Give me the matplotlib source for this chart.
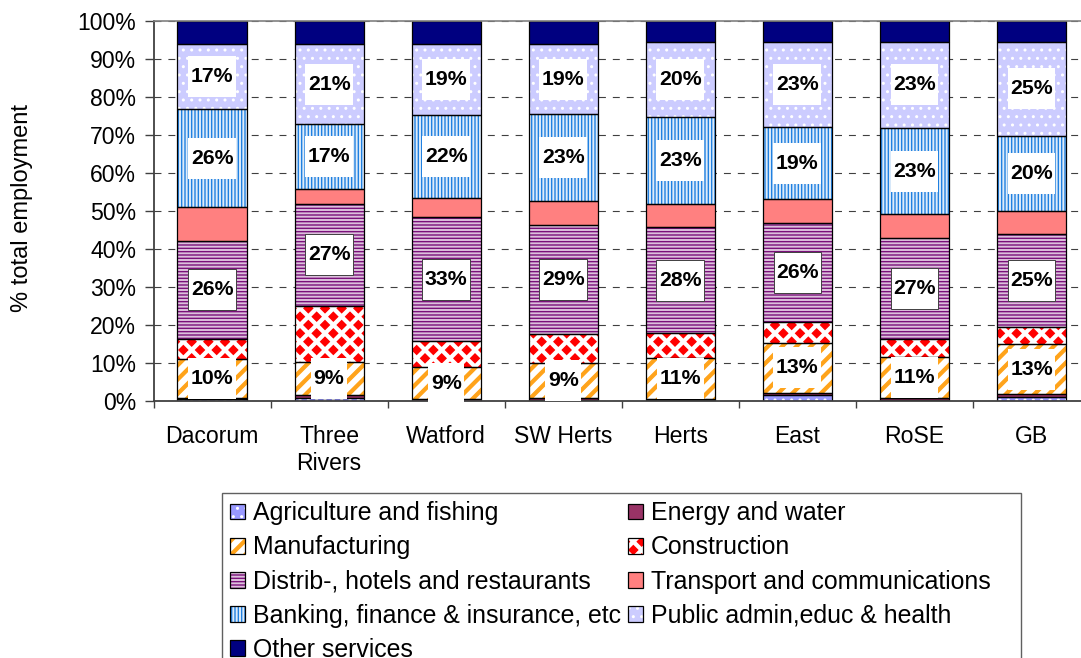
import numpy as np
import matplotlib
matplotlib.use("Agg")
import matplotlib.pyplot as plt
import matplotlib.hatch as mhatch
from matplotlib.path import Path
from matplotlib.patches import Rectangle
from matplotlib.legend_handler import HandlerTuple

# ---------------- data (percent of total employment) ----------------
categories = ["Dacorum", "Three\nRivers", "Watford", "SW Herts", "Herts", "East", "RoSE", "GB"]
series_names = ["Agriculture and fishing", "Energy and water", "Manufacturing", "Construction",
                "Distrib-, hotels and restaurants", "Transport and communications",
                "Banking, finance & insurance, etc", "Public admin,educ & health", "Other services"]
agriculture = [0.5, 0.9, 0.1, 0.2, 0.2, 1.5, 0.3, 1.1]
energy = [0.4, 0.8, 0.3, 0.6, 0.3, 0.7, 0.4, 0.7]
manufacturing = [10.1, 8.6, 8.6, 9.1, 10.9, 13.1, 11.0, 13.1]
construction = [5.3, 14.8, 6.7, 7.7, 6.4, 5.4, 4.5, 4.5]
distribution = [25.9, 26.7, 32.6, 28.6, 28.0, 26.2, 26.6, 24.6]
transport = [8.8, 4.0, 5.0, 6.4, 6.0, 6.2, 6.4, 6.0]
banking = [25.8, 17.0, 22.0, 22.8, 22.9, 18.9, 22.6, 19.8]
public_admin = [17.1, 21.1, 18.6, 18.6, 19.7, 22.6, 22.8, 24.7]
other_services = [6.1, 6.1, 6.1, 6.0, 5.6, 5.4, 5.4, 5.5]
labelled_series = [2, 4, 6, 7]
yticks = [0, 10, 20, 30, 40, 50, 60, 70, 80, 90, 100]

series = [agriculture, energy, manufacturing, construction, distribution,
          transport, banking, public_admin, other_services]

# ---------------- custom fill patterns ----------------
DIAMOND_FRAC = 0.26
BAND_FRAC = 0.28


class DiamondHatch(mhatch.HatchPatternBase):
    def __init__(self, hatch, density):
        self.n = int(hatch.count("*") * density)
        if self.n:
            n = self.n
            c1 = [(i / n, j / n) for i in range(n + 1) for j in range(n + 1)]
            c2 = [((i + .5) / n, (j + .5) / n) for i in range(n) for j in range(n)]
            self.centers = np.array(c1 + c2, dtype=float)
            self.num_vertices = len(self.centers) * 5
        else:
            self.num_vertices = 0

    def set_vertices_and_codes(self, vertices, codes):
        r = DIAMOND_FRAC / self.n
        shape = np.array([[0, -r], [r, 0], [0, r], [-r, 0], [0, -r]])
        verts = (self.centers[:, None, :] + shape[None, :, :]).reshape(-1, 2)
        vertices[:] = verts
        sc = np.array([Path.MOVETO, Path.LINETO, Path.LINETO, Path.LINETO, Path.CLOSEPOLY])
        codes[:] = np.tile(sc, len(self.centers))


class BandHatch(mhatch.HatchPatternBase):
    def __init__(self, hatch, density):
        self.n = 7 if "O" in hatch else 0
        if self.n:
            self.cs = np.arange(-self.n - 1, self.n + 2) / self.n
            self.num_vertices = len(self.cs) * 5
        else:
            self.num_vertices = 0

    def set_vertices_and_codes(self, vertices, codes):
        w = BAND_FRAC / self.n
        polys = []
        for c in self.cs:
            polys.append([(c - w / 2 - 0.5, -0.5), (c + w / 2 - 0.5, -0.5),
                          (c + w / 2 + 1.5, 1.5), (c - w / 2 + 1.5, 1.5),
                          (c - w / 2 - 0.5, -0.5)])
        vertices[:] = np.array(polys).reshape(-1, 2)
        sc = np.array([Path.MOVETO, Path.LINETO, Path.LINETO, Path.LINETO, Path.CLOSEPOLY])
        codes[:] = np.tile(sc, len(self.cs))


_ht = mhatch._hatch_types
_ht[_ht.index(mhatch.Stars)] = DiamondHatch
_ht[_ht.index(mhatch.LargeCircles)] = BandHatch

plt.rcParams["font.family"] = ["Liberation Sans", "DejaVu Sans"]
plt.rcParams["hatch.linewidth"] = 1.0
plt.rcParams["lines.scale_dashes"] = False

styles = [
    dict(face="#9999FF", hatch="..", hc="white"),
    dict(face="#993366", hatch=None, hc=None),
    dict(face="white", hatch="O", hc="#FFA31A"),
    dict(face="white", hatch="*", hc="#FF0000"),
    dict(face="#DCC0DC", hatch="-----", hc="#7A107A"),
    dict(face="#FF8080", hatch=None, hc=None),
    dict(face="#DDEBFA", hatch="|||||", hc="#2080E0"),
    dict(face="#CCCCFF", hatch="..", hc="white"),
    dict(face="#000080", hatch=None, hc=None),
]

W, H = 1081, 658
fig = plt.figure(figsize=(W / 100, H / 100), dpi=100)
ax = fig.add_axes([153.5 / W, 1 - 401 / H, (1090 - 153.5) / W, 380 / H])

x = np.arange(len(categories))
bw = 0.59
bottom = np.zeros(len(categories))
handles = []


def label_box(x0, y0, width, height, mutation_size):
    px = 0.12 * mutation_size
    py = 0.52 * mutation_size
    xa, ya = x0 - px, y0 - py
    xb, yb = x0 + width + px, y0 + height + py
    return Path([(xa, ya), (xb, ya), (xb, yb), (xa, yb), (xa, ya)], closed=True)


for i, (vals, st) in enumerate(zip(series, styles)):
    vals = np.array(vals, dtype=float)
    ax.bar(x, vals, bw, bottom=bottom, color=st["face"], edgecolor="none", linewidth=0, zorder=2)
    if st["hatch"]:
        ax.bar(x, vals, bw, bottom=bottom, facecolor="none", edgecolor=st["hc"],
               hatch=st["hatch"], linewidth=0, zorder=2.1)
    ax.bar(x, vals, bw, bottom=bottom, fill=False, edgecolor="black", linewidth=0.9, zorder=2.2)

    parts = [Rectangle((0, 0), 1, 1, facecolor=st["face"], edgecolor="none", linewidth=0)]
    if st["hatch"]:
        parts.append(Rectangle((0, 0), 1, 1, facecolor="none", edgecolor=st["hc"],
                               hatch=st["hatch"], linewidth=0))
    parts.append(Rectangle((0, 0), 1, 1, fill=False, edgecolor="black", linewidth=0.9))
    handles.append(tuple(parts))

    if i in labelled_series:
        ec = "#404040" if i == 4 else "none"
        for xi, b, v in zip(x, bottom, vals):
            ax.text(xi, b + v / 2, f"{round(v):.0f}%", ha="center", va="center",
                    fontsize=15.3, fontweight="bold", zorder=5,
                    bbox=dict(boxstyle=label_box, facecolor="white", edgecolor=ec, linewidth=0.7))
    bottom = bottom + vals

ax.set_xlim(-0.5, len(categories) - 0.5)
ax.set_ylim(0, 100)

ax.set_yticks(yticks)
ax.set_yticklabels([f"{v}%" for v in yticks], fontsize=16.6)
ax.tick_params(axis="y", direction="out", length=6.5, width=1.0, color="#404040", pad=6)

ax.set_xticks(np.arange(-0.5, len(categories), 1.0))
ax.set_xticklabels([])
ax.set_xticks(x, minor=True)
ax.set_xticklabels(categories, minor=True, fontsize=16.6, linespacing=1.25)
ax.tick_params(axis="x", which="major", direction="out", length=5, width=1.0, color="#404040")
ax.tick_params(axis="x", which="minor", length=0, pad=17)

ax.set_axisbelow(True)
ax.yaxis.grid(True, linestyle=(0, (5, 5)), color="#404040", linewidth=0.8)

for s in ["left", "bottom"]:
    ax.spines[s].set_color("#404040")
    ax.spines[s].set_linewidth(1.3)
ax.spines["top"].set_color("#808080")
ax.spines["top"].set_linewidth(1.2)
ax.spines["right"].set_visible(False)

fig.text(22 / W, 1 - 208 / H, "% total employment", rotation=90, ha="center", va="center",
         fontsize=17)

order = [0, 2, 4, 6, 8, 1, 3, 5, 7]
leg = fig.legend([handles[k] for k in order], [series_names[k] for k in order],
                 handler_map={tuple: HandlerTuple(ndivide=1)},
                 loc="upper left", bbox_to_anchor=(222 / W, 1 - 493 / H), ncol=2,
                 frameon=False, fontsize=17.9, handlelength=0.6, handleheight=0.6,
                 handletextpad=0.3, columnspacing=0.31, labelspacing=0.41, borderpad=0.33,
                 borderaxespad=0)

fig.add_artist(Rectangle((222 / W, -0.05), (1021 - 222) / W, (1 - 493 / H) + 0.05,
                         transform=fig.transFigure, facecolor="none", edgecolor="#606060",
                         linewidth=1.0, clip_on=False))

fig.savefig("out.png", dpi=100)
